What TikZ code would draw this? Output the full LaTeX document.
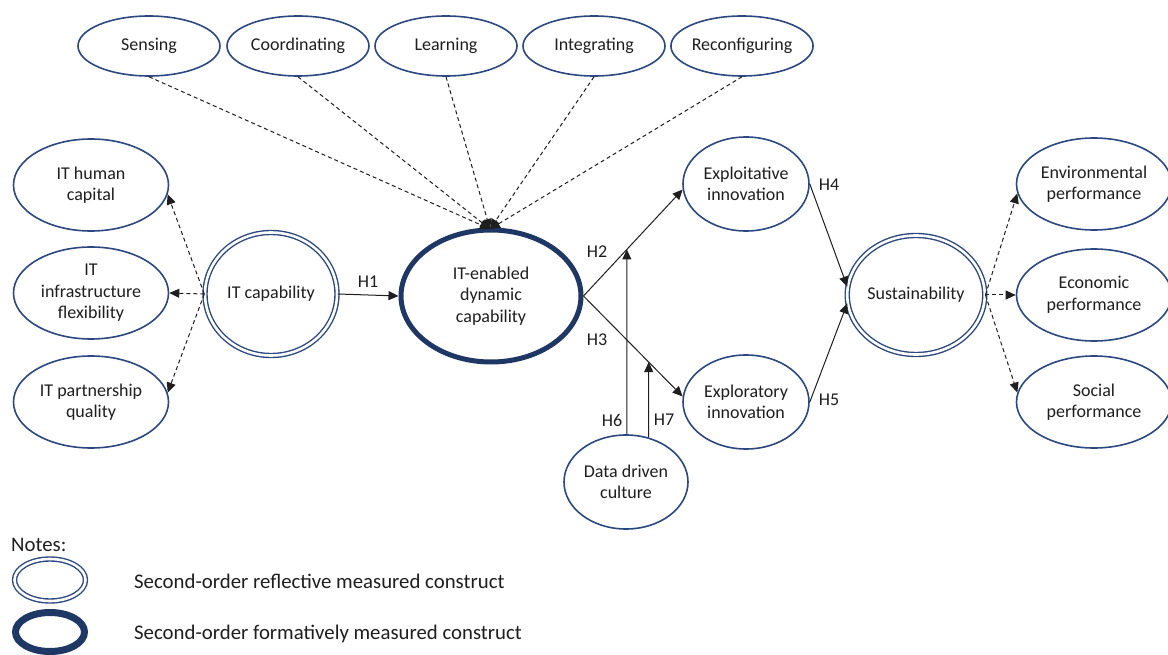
\documentclass[tikz,border=0pt]{standalone}
\usepackage{fontspec}
\setmainfont{Carlito}
\usetikzlibrary{arrows.meta,shapes.geometric,intersections}
\definecolor{ringblue}{RGB}{44,72,128}
\definecolor{navy}{RGB}{30,55,100}
\definecolor{ink}{RGB}{30,30,30}

\begin{document}
\begin{tikzpicture}[x=1pt,y=-1pt,
  every node/.style={font=\fontsize{18}{21.5}\selectfont, text=ink},
  construct/.style={ellipse, draw=ringblue, line width=1.6pt, inner sep=0pt, align=center},
  dimension/.style={construct, minimum width=142pt, minimum height=60pt},
  sidebox/.style={construct, minimum width=155pt, minimum height=92pt},
  reflective/.style={construct, double=white, double distance=2.6pt, line width=1.4pt},
  formative/.style={construct, draw=navy, line width=5pt},
  hyp/.style={draw=ink, line width=1pt, -{Triangle[length=10pt,width=9pt]}},
  loading/.style={hyp, dash pattern=on 4pt off 3pt},
  hlabel/.style={inner sep=1pt},
  legendtext/.style={anchor=west, inner sep=0pt, font=\fontsize{20.8}{25}\selectfont},
]
\useasboundingbox (0,0) rectangle (1168,655);

% first-order dimensions of the dynamic capability
\node[dimension] (sens) at (149,46) {Sensing};
\node[dimension] (coord) at (298,46) {Coordinating};
\node[dimension] (learn) at (446,46) {Learning};
\node[dimension] (integ) at (594,46) {Integrating};
\node[dimension] (reconf) at (742,46) {Reconfiguring};

% IT capability and its dimensions
\node[sidebox] (human) at (91,185) {IT human\\capital};
\node[sidebox] (infra) at (91,293) {IT\\infrastructure\\flexibility};
\node[sidebox] (partner) at (91,402) {IT partnership\\quality};
\node[reflective, minimum width=132pt, minimum height=123pt] (itcap) at (271,294) {IT capability};

% IT-enabled dynamic capability
\node[formative, minimum width=180pt, minimum height=132pt] (itdyn) at (491,296) {IT-enabled\\dynamic\\capability};
\coordinate (junc) at (490,229);

% innovation and moderator
\node[construct, minimum width=126pt, minimum height=94pt] (exploit) at (746,184) {Exploitative\\innovation};
\node[construct, minimum width=126pt, minimum height=94pt] (explor) at (746,402) {Exploratory\\innovation};
\node[construct, minimum width=124pt, minimum height=94pt] (culture) at (626,482) {Data driven\\culture};

% sustainability and its dimensions
\node[reflective, minimum width=135pt, minimum height=119pt] (sust) at (916,295) {Sustainability};
\node[sidebox] (env) at (1094,184) {Environmental\\performance};
\node[sidebox] (econ) at (1094,295) {Economic\\performance};
\node[sidebox] (social) at (1094,402) {Social\\performance};

% formative indicators
\foreach \n in {sens,coord,learn,integ,reconf}
  \draw[loading] (\n.south) -- (junc);

% reflective indicators
\draw[loading] (itcap.west) -- (human.-7);
\draw[loading] (itcap.west) -- (infra.east);
\draw[loading] (itcap.west) -- (partner.7);
\draw[loading] (sust.east) -- (env.187);
\draw[loading] (sust.east) -- (econ.west);
\draw[loading] (sust.east) -- (social.173);

% hypothesised paths
\draw[hyp] (itcap.east) -- (itdyn.west) node[hlabel, midway, above=6pt] {H1};
\draw[hyp, name path=h2] (itdyn.east) -- (exploit.185);
\draw[hyp, name path=h3] (itdyn.east) -- (explor.175);
\draw[hyp] (exploit.east) -- (sust.173);
\draw[hyp] (explor.east) -- (sust.187);

% moderating effects
\path[name path=v6] (culture.89) -- ++(0,-300);
\path[name path=v7] (culture.63) -- ++(0,-300);
\path[name intersections={of=h2 and v6, by=m6}];
\path[name intersections={of=h3 and v7, by=m7}];
\draw[hyp] (culture.89) -- (m6);
\draw[hyp] (culture.63) -- (m7);

\node[hlabel] (lh2) at (597,252) {H2};
\node[hlabel] (lh3) at (597,340) {H3};
\node[hlabel] (lh4) at (829,185) {H4};
\node[hlabel] (lh5) at (829,400) {H5};
\node[hlabel] (lh6) at (612,420) {H6};
\node[hlabel] (lh7) at (664,420) {H7};

% legend
\node[legendtext] (notes) at (11,545) {Notes:};
\node[reflective, minimum width=71pt, minimum height=42pt] (keyref) at (50,580) {};
\node[construct, draw=navy, line width=7pt, minimum width=69pt, minimum height=39pt] (keyform) at (50,632) {};
\node[legendtext] (txtref) at (134,581) {Second-order reflective measured construct};
\node[legendtext] (txtform) at (134,634) {Second-order formatively measured construct};
\end{tikzpicture}
\end{document}
